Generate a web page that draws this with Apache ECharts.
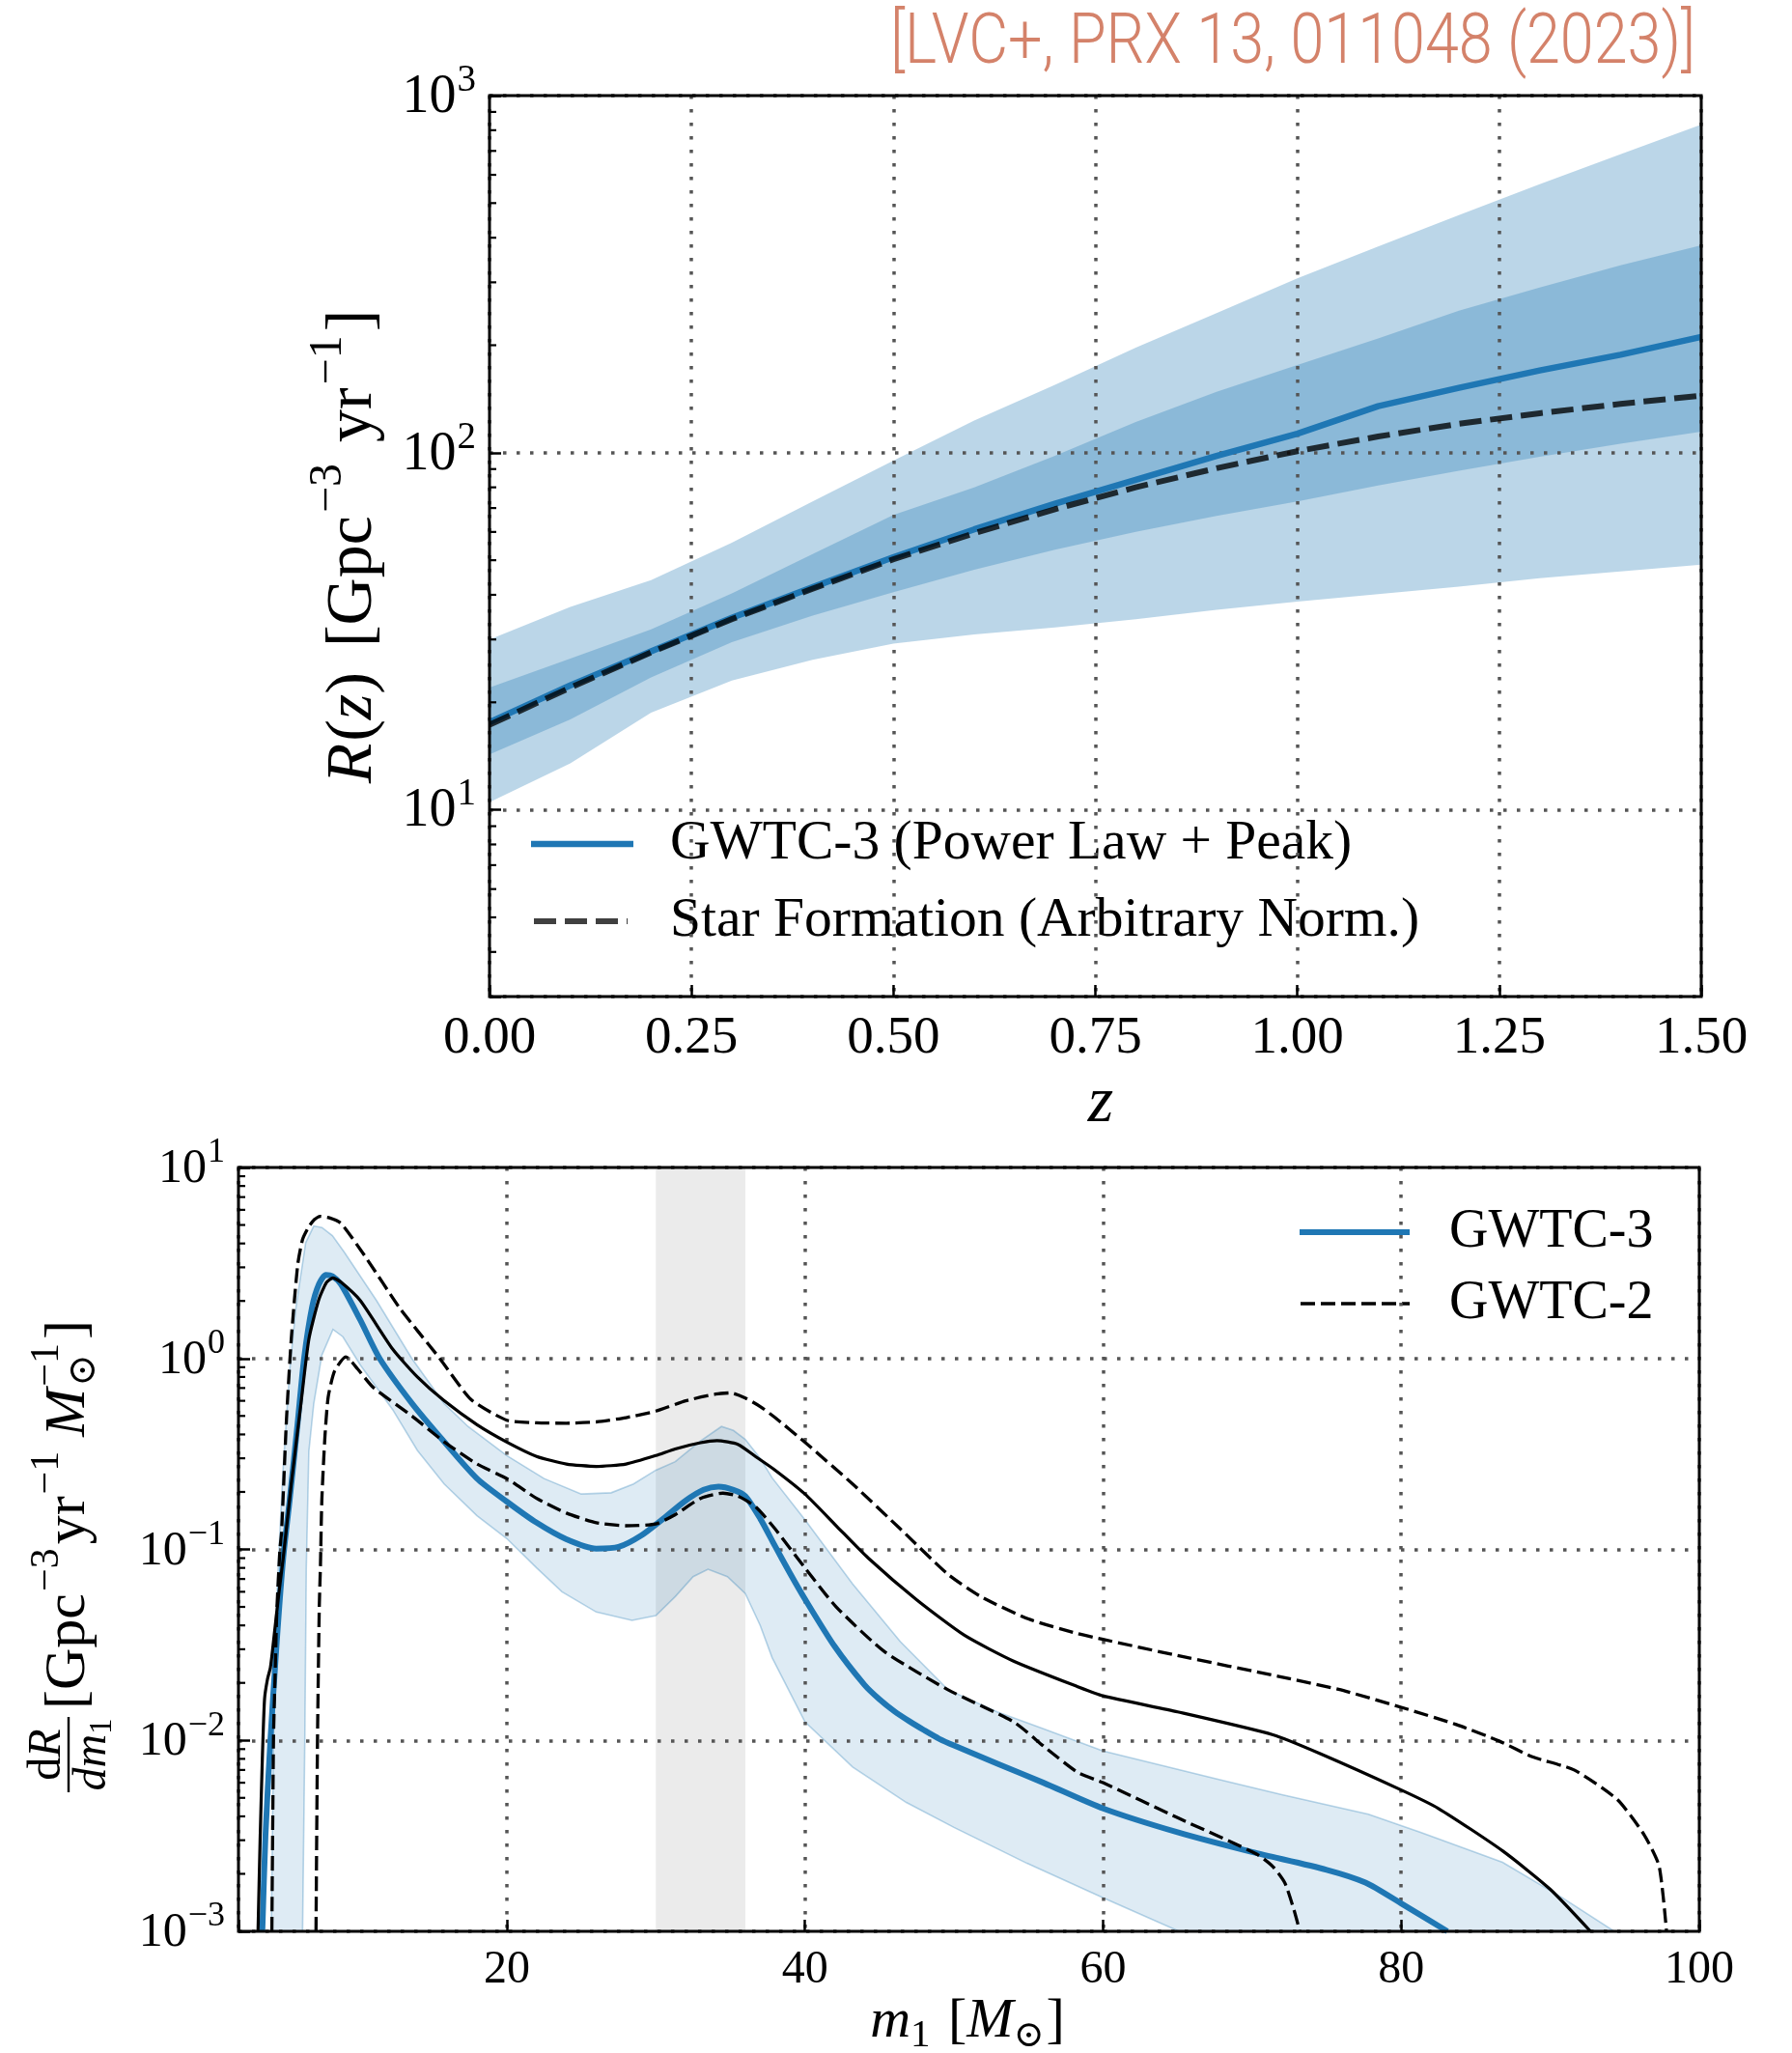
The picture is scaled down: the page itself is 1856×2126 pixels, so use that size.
<!DOCTYPE html>
<html><head><meta charset="utf-8">
<script src="https://cdn.jsdelivr.net/npm/echarts@6/dist/echarts.min.js"></script>
<style>html,body{margin:0;padding:0;background:#fff}#chart{width:1856px;height:2126px}</style>
</head><body><div id="chart"></div>
<script>
// ---------------- DATA: top panel (merger rate vs redshift) ----------------
const REDSHIFT      = [0.0, 0.1, 0.2, 0.3, 0.4, 0.5, 0.6, 0.7, 0.8, 0.9, 1.0, 1.1, 1.2, 1.3, 1.4, 1.5];
const RATE_MEDIAN   = [17.6, 22.3, 27.8, 34.5, 42, 51, 61, 72, 84, 98, 113, 135, 152, 170, 188, 211];
const RATE_SFR      = [17.3, 22, 27.6, 34.2, 41.6, 50.3, 59.5, 69.5, 80, 90.5, 101, 111, 120.5, 129, 137, 144.5];
const RATE_50_LOW   = [14.3, 17.9, 23.5, 29.5, 35, 40.7, 47, 53.5, 60, 66.5, 73, 81, 89, 97.5, 106, 114.6];
const RATE_50_HIGH  = [22, 26.5, 32, 40.4, 52, 67, 80, 98, 122, 148, 176, 209, 250, 290, 335, 381];
const RATE_90_LOW   = [10.5, 13.5, 18.7, 23, 26.3, 29.2, 31, 32.4, 34.2, 36.3, 38.3, 40.2, 42.2, 44.5, 46.5, 48.6];
const RATE_90_HIGH  = [30, 37, 44, 56, 73, 95, 123, 155, 197, 246, 308, 378, 463, 565, 685, 830];
const TOP_X_MIN = 0, TOP_X_MAX = 1.5, TOP_X_STEP = 0.25;
const TOP_Y_MIN = 3, TOP_Y_MAX = 1000;
const TOP_MINOR_TICKS = [4,5,6,7,8,9,20,30,40,50,60,70,80,90,200,300,400,500,600,700,800,900];

// ---------------- DATA: bottom panel (primary mass distribution) ----------------
const GWTC3_MEDIAN = [[3.6,0.001],[3.81,0.00316],[4.14,0.01],[4.57,0.033],[5.0,0.09],[5.43,0.18],[5.97,0.46],[6.4,1.0],[6.94,1.86],[7.4,2.45],[7.87,2.74],[8.3,2.7],[8.88,2.44],[10.17,1.59],[11.47,1.0],[13.63,0.583],[15.8,0.366],[18,0.235],[20,0.178],[22,0.138],[24,0.113],[26,0.101],[27.5,0.103],[29,0.118],[30.5,0.145],[32,0.18],[33.2,0.205],[34.2,0.213],[35.2,0.205],[36,0.19],[37,0.145],[38,0.104],[39,0.075],[40,0.055],[42,0.031],[44,0.0195],[45,0.0164],[46,0.0142],[47,0.0126],[48,0.0113],[49,0.0102],[50,0.0094],[53,0.0075],[56,0.006],[60,0.0044],[65,0.0033],[70,0.0026],[75,0.0021],[77.6,0.0018],[80,0.0014],[83.1,0.001]];
const GWTC3_UPPER = [[4.2,0.001],[4.35,0.01],[4.5,0.04],[4.67,0.084],[5.0,0.27],[5.43,0.86],[5.86,1.86],[6.51,4.04],[7.05,4.94],[7.6,4.85],[8.3,4.4],[9.1,3.6],[11.26,2.01],[13.63,1.0],[15.8,0.58],[17.4,0.44],[20,0.31],[22.5,0.235],[25,0.195],[27,0.198],[28.5,0.22],[30,0.26],[31.3,0.288],[33,0.37],[34.4,0.44],[35.2,0.42],[36,0.377],[37,0.3],[37.8,0.237],[40,0.143],[43.2,0.066],[46.4,0.0329],[49.6,0.0184],[52.9,0.0141],[56,0.0115],[60,0.0088],[67.9,0.0062],[72,0.0052],[77.8,0.0041],[81.3,0.0033],[86.8,0.0023],[90.8,0.0015],[94.3,0.001]];
const GWTC3_LOWER = [[6.3,0.001],[6.45,0.01],[6.55,0.08],[6.72,0.325],[7.05,0.58],[7.59,1.04],[8.34,1.42],[9.0,1.3],[10.17,0.925],[12.34,0.54],[14,0.33],[15.8,0.22],[18,0.15],[20,0.114],[22,0.08],[23.7,0.06],[26,0.047],[28.4,0.0425],[30,0.045],[31.3,0.0566],[32.5,0.072],[33.5,0.0787],[34.8,0.072],[36,0.0587],[37,0.04],[37.8,0.0271],[40,0.0125],[43.2,0.00725],[46.8,0.00473],[50,0.0035],[54.9,0.00227],[60,0.0015],[65.1,0.001]];
const GWTC2_MEDIAN = [[3.31,0.001],[3.45,0.003],[3.6,0.008],[3.75,0.0165],[3.95,0.021],[4.14,0.024],[4.35,0.033],[4.7,0.058],[5.0,0.09],[5.54,0.22],[6.19,0.58],[6.72,1.26],[7.37,2.01],[7.9,2.5],[8.34,2.64],[8.9,2.5],[10.17,2.01],[12.34,1.12],[14,0.8],[15.8,0.6],[18,0.45],[20,0.365],[22,0.307],[24,0.28],[26,0.272],[28,0.28],[30,0.31],[31.3,0.336],[33,0.362],[34.1,0.371],[35.5,0.355],[36.7,0.306],[38,0.26],[40,0.195],[42.1,0.133],[44.25,0.09],[47.5,0.0544],[50.7,0.0355],[54,0.026],[58.3,0.0191],[60,0.0171],[65,0.0141],[71.4,0.0107],[74.6,0.0085],[80,0.0055],[82.5,0.0044],[86.8,0.00264],[90,0.00166],[92.7,0.001]];
const GWTC2_UPPER = [[4.24,0.001],[4.35,0.0103],[4.46,0.0225],[4.57,0.047],[4.78,0.1],[4.89,0.123],[5.22,0.48],[5.54,1.26],[5.97,3.08],[6.3,4.2],[6.72,4.9],[7.1,5.35],[7.48,5.55],[8.1,5.45],[8.88,5.1],[10.6,3.33],[12.76,1.86],[14,1.4],[15.5,1.0],[17.6,0.61],[20,0.475],[22,0.46],[24,0.458],[26,0.465],[28,0.49],[30,0.53],[32,0.6],[34,0.65],[35,0.66],[36,0.62],[37,0.56],[38,0.49],[40,0.364],[43.2,0.22],[46.4,0.128],[49.6,0.074],[51.8,0.0566],[55,0.0432],[58.3,0.0362],[60,0.0338],[65,0.0278],[71.8,0.0216],[75.8,0.0185],[80,0.0149],[83.7,0.0121],[86.6,0.0099],[88.8,0.0082],[91.6,0.007],[94.5,0.0049],[96.3,0.0032],[97.3,0.0022],[97.8,0.001]];
const GWTC2_LOWER = [[7.2,0.001],[7.3,0.01],[7.42,0.05],[7.5,0.083],[7.59,0.18],[7.8,0.39],[8.02,0.63],[8.45,0.86],[9.2,1.02],[10,0.88],[11.04,0.705],[13.63,0.5],[15.8,0.366],[18,0.28],[20,0.235],[22,0.185],[24,0.155],[26,0.138],[28,0.133],[30,0.136],[31.3,0.152],[33,0.185],[34.5,0.197],[35.5,0.19],[36.7,0.167],[38,0.128],[40,0.08],[42.1,0.05],[45.3,0.0293],[49.6,0.0184],[54,0.0125],[56.1,0.0092],[58.3,0.0068],[60,0.006],[65.1,0.0039],[70.3,0.00254],[71.4,0.00218],[72.2,0.00179],[72.8,0.0013],[73.2,0.001]];
const PEAK_REGION = [[30, 36]];
const BOT_X_MIN = 2, BOT_X_MAX = 100, BOT_X_STEP = 20;
const BOT_Y_MIN = 0.001, BOT_Y_MAX = 10;
const BOT_MINOR_TICKS = [0.002,0.003,0.004,0.005,0.006,0.007,0.008,0.009,0.02,0.03,0.04,0.05,0.06,0.07,0.08,0.09,0.2,0.3,0.4,0.5,0.6,0.7,0.8,0.9,2,3,4,5,6,7,8,9];

const LEGEND_TOP = ['GWTC-3 (Power Law + Peak)', 'Star Formation (Arbitrary Norm.)'];
const LEGEND_BOTTOM = ['GWTC-3', 'GWTC-2'];
const CITATION = '[LVC+, PRX 13, 011048 (2023)]';

// ---------------- styling helpers ----------------
const FONT = '"Liberation Serif", "DejaVu Serif", serif';
const C0 = '#1f77b4';
const GRID_LINE = {color: '#555555', width: 3.5, type: [3.5, 10.5], cap: 'butt'};

const chart = echarts.init(document.getElementById('chart'), null, {renderer: 'canvas'});

function powLabel(v) {
  const l = Math.log10(v), e = Math.round(l);
  if (Math.abs(l - e) > 1e-6) return '';
  return '{b|10}{s|' + (e < 0 ? '\u2212' + (-e) : '' + e) + '}';
}
function powRich(base, sup, raise) {
  return {
    b: {fontFamily: FONT, fontSize: base, color: '#000', lineHeight: base + 4, verticalAlign: 'bottom'},
    s: {fontFamily: FONT, fontSize: sup, color: '#000', lineHeight: sup, padding: [0, 0, raise, 1], verticalAlign: 'bottom'}
  };
}

function bandSeries(xi, yi, upper, lower, fill, stroke, z) {
  return {
    type: 'custom', xAxisIndex: xi, yAxisIndex: yi, z: z, silent: true, clip: true,
    data: upper,
    renderItem: function (params, api) {
      if (params.dataIndex !== 0) return null;
      const pts = [];
      upper.forEach(p => pts.push(api.coord(p)));
      lower.slice().reverse().forEach(p => pts.push(api.coord(p)));
      return {type: 'polygon', shape: {points: pts},
        style: {fill: fill, stroke: stroke || null, lineWidth: stroke ? 1.6 : 0}};
    }
  };
}
function minorTickSeries(xi, yi, xmin, values) {
  return {
    type: 'custom', xAxisIndex: xi, yAxisIndex: yi, z: 12, silent: true, clip: false,
    data: values.map(v => [xmin, v]),
    renderItem: function (params, api) {
      const p = api.coord([api.value(0), api.value(1)]);
      return {type: 'line', shape: {x1: p[0], y1: p[1], x2: p[0] + 7, y2: p[1]},
        style: {stroke: '#000', lineWidth: 2.2}};
    }
  };
}
function lineSeries(xi, yi, data, color, width, dash, z, smooth) {
  return {
    type: 'line', xAxisIndex: xi, yAxisIndex: yi, data: data, z: z, silent: true,
    showSymbol: false, symbol: 'none', smooth: smooth || false, clip: true,
    lineStyle: {color: color, width: width, type: dash || 'solid', cap: 'butt', join: 'round'}
  };
}

// math-like text layout using measured widths
const _ctx = document.createElement('canvas').getContext('2d');
function fontStr(size, italic) { return (italic ? 'italic ' : '') + size + 'px ' + FONT; }
function mathRun(parts, anchor) {
  let x = 0, hold = 0; const items = [];
  parts.forEach(p => {
    const f = fontStr(p.s, p.it);
    _ctx.font = f;
    const w = _ctx.measureText(p.t).width;
    x += (p.dx || 0);
    items.push({x: x, y: p.dy || 0, t: p.t, f: f});
    if (p.hold) { hold = w; }
    else { x += Math.max(w, hold); hold = 0; }
  });
  const off = anchor === 'center' ? -x / 2 : 0;
  return items.map(it => ({type: 'text', x: it.x + off, y: it.y, silent: true,
    style: {text: it.t, font: it.f, fill: '#000', align: 'left', verticalAlign: 'middle'}}));
}

// citation: light sans, condensed to the reference width
const CITE_FONT = '300 72px Roboto, "Liberation Sans", sans-serif';
_ctx.font = CITE_FONT;
const CITE_SCALE = 834 / _ctx.measureText(CITATION).width;

const topGrid = {left: 507, top: 99, width: 1255, height: 933};
const botGrid = {left: 247, top: 1209, width: 1513, height: 791};

const option = {
  animation: false,
  backgroundColor: '#ffffff',
  grid: [
    Object.assign({show: true, borderColor: '#000', borderWidth: 3, backgroundColor: 'transparent', z: 10}, topGrid),
    Object.assign({show: true, borderColor: '#000', borderWidth: 3, backgroundColor: 'transparent', z: 10}, botGrid)
  ],
  xAxis: [
    {type: 'value', gridIndex: 0, min: TOP_X_MIN, max: TOP_X_MAX, interval: TOP_X_STEP, z: 3,
     axisLine: {show: false},
     axisTick: {show: true, inside: true, length: 12, lineStyle: {color: '#000', width: 2.5}},
     axisLabel: {show: true, margin: 16, color: '#000', fontFamily: FONT, fontSize: 55,
                 showMinLabel: true, showMaxLabel: true, formatter: v => v.toFixed(2)},
     splitLine: {show: true, lineStyle: GRID_LINE}},
    {type: 'value', gridIndex: 1, min: BOT_X_MIN, max: BOT_X_MAX, minInterval: BOT_X_STEP, maxInterval: BOT_X_STEP, splitNumber: 5, z: 3,
     axisLine: {show: false},
     axisTick: {show: true, inside: true, length: 12, lineStyle: {color: '#000', width: 2.5}},
     axisLabel: {show: true, margin: 16, color: '#000', fontFamily: FONT, fontSize: 48,
                 showMinLabel: true, showMaxLabel: true,
                 formatter: v => (Math.abs(v % BOT_X_STEP) < 1e-9 ? String(v) : '')},
     splitLine: {show: true, lineStyle: GRID_LINE}}
  ],
  yAxis: [
    {type: 'log', logBase: 10, gridIndex: 0, min: TOP_Y_MIN, max: TOP_Y_MAX, z: 3,
     axisLine: {show: false},
     axisTick: {show: true, inside: true, length: 12, lineStyle: {color: '#000', width: 2.5}},
     axisLabel: {show: true, margin: 14, formatter: powLabel, rich: powRich(56, 39, 26)},
     splitLine: {show: true, lineStyle: GRID_LINE}},
    {type: 'log', logBase: 10, gridIndex: 1, min: BOT_Y_MIN, max: BOT_Y_MAX, z: 3,
     axisLine: {show: false},
     axisTick: {show: true, inside: true, length: 12, lineStyle: {color: '#000', width: 2.5}},
     axisLabel: {show: true, margin: 14, formatter: powLabel, rich: powRich(50, 36, 24)},
     splitLine: {show: true, lineStyle: GRID_LINE}}
  ],
  series: [
    // top panel
    bandSeries(0, 0, REDSHIFT.map((z, i) => [z, RATE_90_HIGH[i]]), REDSHIFT.map((z, i) => [z, RATE_90_LOW[i]]), 'rgba(31,119,180,0.3)', null, 1),
    bandSeries(0, 0, REDSHIFT.map((z, i) => [z, RATE_50_HIGH[i]]), REDSHIFT.map((z, i) => [z, RATE_50_LOW[i]]), 'rgba(31,119,180,0.3)', null, 1.5),
    lineSeries(0, 0, REDSHIFT.map((z, i) => [z, RATE_MEDIAN[i]]), C0, 6.5, null, 5),
    lineSeries(0, 0, REDSHIFT.map((z, i) => [z, RATE_SFR[i]]), 'rgba(0,0,0,0.78)', 6, [23, 9], 6),
    minorTickSeries(0, 0, TOP_X_MIN, TOP_MINOR_TICKS),
    // bottom panel
    {type: 'custom', xAxisIndex: 1, yAxisIndex: 1, z: 0.5, silent: true, clip: true, data: PEAK_REGION,
     renderItem: function (params, api) {
       const a = api.coord([api.value(0), BOT_Y_MAX]);
       const b = api.coord([api.value(1), BOT_Y_MIN]);
       return {type: 'rect', shape: {x: a[0], y: a[1], width: b[0] - a[0], height: b[1] - a[1]}, style: {fill: '#ebebeb'}};
     }},
    bandSeries(1, 1, GWTC3_UPPER, GWTC3_LOWER, 'rgba(31,119,180,0.15)', 'rgba(31,119,180,0.3)', 1),
    lineSeries(1, 1, GWTC3_MEDIAN, C0, 6, null, 5, 0.25),
    lineSeries(1, 1, GWTC2_MEDIAN, '#000', 3.2, null, 6, 0.2),
    lineSeries(1, 1, GWTC2_UPPER, '#000', 3.3, [15, 6], 7, 0.2),
    lineSeries(1, 1, GWTC2_LOWER, '#000', 3.3, [15, 6], 7, 0.2),
    minorTickSeries(1, 1, BOT_X_MIN, BOT_MINOR_TICKS)
  ],
  graphic: [
    // citation
    {type: 'text', x: 1756, y: 47, scaleX: CITE_SCALE, silent: true,
     style: {text: CITATION, font: CITE_FONT, fill: '#d4826a', align: 'right', verticalAlign: 'middle'}},
    // top legend
    {type: 'line', silent: true, shape: {x1: 550, y1: 874, x2: 656, y2: 874}, style: {stroke: C0, lineWidth: 6.5}},
    {type: 'text', x: 694, y: 874, silent: true, style: {text: LEGEND_TOP[0], font: fontStr(57.5), fill: '#000', align: 'left', verticalAlign: 'middle'}},
    {type: 'line', silent: true, shape: {x1: 553, y1: 954, x2: 650, y2: 954}, style: {stroke: 'rgba(0,0,0,0.75)', lineWidth: 6, lineDash: [23, 9]}},
    {type: 'text', x: 694, y: 954, silent: true, style: {text: LEGEND_TOP[1], font: fontStr(57.5), fill: '#000', align: 'left', verticalAlign: 'middle'}},
    // bottom legend
    {type: 'line', silent: true, shape: {x1: 1346, y1: 1276, x2: 1460, y2: 1276}, style: {stroke: C0, lineWidth: 6}},
    {type: 'text', x: 1501, y: 1276, silent: true, style: {text: LEGEND_BOTTOM[0], font: fontStr(56), fill: '#000', align: 'left', verticalAlign: 'middle'}},
    {type: 'line', silent: true, shape: {x1: 1347, y1: 1350, x2: 1460, y2: 1350}, style: {stroke: '#000', lineWidth: 3.5, lineDash: [15, 6]}},
    {type: 'text', x: 1501, y: 1350, silent: true, style: {text: LEGEND_BOTTOM[1], font: fontStr(56), fill: '#000', align: 'left', verticalAlign: 'middle'}},
    // top x title
    {type: 'text', x: 1140, y: 1143, silent: true, style: {text: 'z', font: fontStr(68, true), fill: '#000', align: 'center', verticalAlign: 'middle'}},
    // top y title (rotated)
    {type: 'group', x: 366, y: 566, rotation: Math.PI / 2, silent: true,
     children: mathRun([
       {t: 'R', s: 68, it: true}, {t: '(', s: 68, dx: 2}, {t: 'z', s: 68, it: true}, {t: ')', s: 68},
       {t: '[Gpc', s: 68, dx: 26}, {t: '\u22123', s: 48, dy: -26, dx: 3}, {t: 'yr', s: 68, dx: 22}, {t: '\u22121', s: 48, dy: -26, dx: 3}, {t: ']', s: 68, dx: 4}
     ], 'center')},
    // bottom x title
    {type: 'group', x: 1002, y: 2094, silent: true,
     children: mathRun([
       {t: 'm', s: 58, it: true}, {t: '1', s: 41, dy: 14}, {t: ' [', s: 58, dx: 4}, {t: 'M', s: 58, it: true}, {t: '\u2299', s: 38, dy: 15}, {t: ']', s: 58, dx: 2}
     ], 'center')},
    // bottom y title (rotated)
    {type: 'group', x: 71, y: 1817, rotation: Math.PI / 2, silent: true,
     children: [].concat(
       mathRun([{t: 'd', s: 48}, {t: 'R', s: 48, it: true}], 'center').map(e => (e.y -= 22, e)),
       [{type: 'line', shape: {x1: -39, y1: 0, x2: 39, y2: 0}, style: {stroke: '#000', lineWidth: 2.4}}],
       mathRun([{t: 'dm', s: 48, it: true}, {t: '1', s: 33, dy: 10}], 'center').map(e => (e.y += 25, e)),
       mathRun([
         {t: '[Gpc', s: 60}, {t: '\u22123', s: 42, dy: -22, dx: 2}, {t: 'yr', s: 60, dx: 4}, {t: '\u22121', s: 42, dy: -22, dx: 2},
         {t: ' ', s: 60}, {t: 'M', s: 60, it: true}, {t: '\u2299', s: 40, dy: 16, hold: true, dx: 2}, {t: '\u22121', s: 42, dy: -22}, {t: ']', s: 60, dx: 4}
       ]).map(e => (e.x += 47, e))
     )}
  ]
};
chart.setOption(option);
</script></body></html>
